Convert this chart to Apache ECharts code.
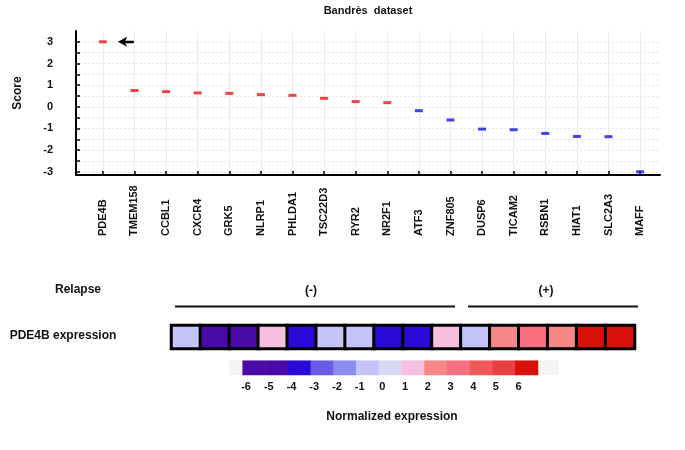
<!DOCTYPE html>
<html><head><meta charset="utf-8">
<script src="https://cdn.jsdelivr.net/npm/echarts@6/dist/echarts.min.js"></script>
<style>html,body{margin:0;padding:0;background:#fff}#c{width:685px;height:450px}</style>
</head><body><div id="c"></div>
<script>
const genes = ['PDE4B','TMEM158','CCBL1','CXCR4','GRK5','NLRP1','PHLDA1','TSC22D3','RYR2','NR2F1','ATF3','ZNF805','DUSP6','TICAM2','RSBN1','HIAT1','SLC2A3','MAFF'];
const scores = [3.0,0.75,0.70,0.64,0.62,0.56,0.53,0.39,0.24,0.19,-0.18,-0.61,-1.03,-1.06,-1.23,-1.37,-1.38,-3.0];
const yTickValues = [-3,-2.5,-2,-1.5,-1,-0.5,0,0.5,1,1.5,2,2.5,3];
const yLabelValues = [-3,-2,-1,0,1,2,3];
const geneIndex = genes.map((g,i)=>i);
const expression = [-1,-5,-5,1,-4,-1,-1,-4,-4,1,-1,2,3,2,6,6];
const scaleValues = [-6,-5,-4,-3,-2,-1,0,1,2,3,4,5,6];
const scaleColors = ['#4a0aa8','#4a0aa8','#2a0ad8','#6a5ae8','#8a8cf0','#c4c4f8','#d8d8f4','#f8c0e0','#f88888','#f87080','#f05858','#e84040','#d81008'];

const FF = "'Liberation Sans', Arial, sans-serif";
const chart = echarts.init(document.getElementById('c'), null, {renderer:'canvas'});
const txt = (x,y,t,size,align) => ({type:'text', x:x, y:y, style:{text:t, font:'bold '+size+'px '+FF, fill:'#111', align:align||'center', verticalAlign:'middle'}});
const ln = (x1,x2,y) => ({type:'line', shape:{x1:x1,y1:y,x2:x2,y2:y}, style:{stroke:'#111', lineWidth:2}});

chart.setOption({
  animation:false,
  backgroundColor:'#fff',
  title:{text:'Bandrès  dataset', left:368, top:5, textAlign:'center', padding:0,
    textStyle:{fontFamily:FF, fontWeight:'bold', fontSize:11, color:'#111'}},
  graphic:[
    {type:'rect', z:-10, shape:{x:229,y:360.5,width:330,height:14.5}, style:{fill:'#f4f4f4'}},
    txt(78,290,'Relapse',12),
    txt(311,291,'(-)',12),
    txt(546,291,'(+)',12),
    ln(175,455,306.5),
    ln(468,638,306.5),
    txt(63,336,'PDE4B expression',12),
    txt(392,417,'Normalized expression',12)
  ],
  visualMap:{type:'piecewise', show:false, seriesIndex:[1,2], dimension:2,
    pieces: scaleValues.map((v,i)=>({value:v, color:scaleColors[i]}))},
  grid:[
    {left:76, top:31, width:584, height:144, containLabel:false},
    {left:171.5, top:325.5, width:463, height:23, show:true, borderColor:'#000', borderWidth:3, backgroundColor:'#000'},
    {left:242.7, top:360.7, width:295.3, height:14.3}
  ],
  xAxis:[
    {type:'value', gridIndex:0, min:-0.85, max:17.63,
      axisLine:{show:true, onZero:false, lineStyle:{color:'#000', width:2}},
      axisTick:{show:true, inside:true, length:4, customValues:geneIndex, lineStyle:{color:'#000', width:1.5}},
      axisLabel:{show:true, customValues:geneIndex, rotate:90, align:'left', verticalAlign:'middle', margin:61,
        formatter:(v)=>genes[Math.round(v)]||'', fontFamily:FF, fontWeight:'bold', fontSize:11, color:'#111'},
      splitLine:{show:true, lineStyle:{color:'#ebebeb', width:1}}},
    {type:'category', gridIndex:1, data:expression.map((v,i)=>i), show:false},
    {type:'category', gridIndex:2, data:scaleValues.map(String),
      axisLine:{show:false}, axisTick:{show:false},
      axisLabel:{margin:6, padding:[0,16,0,0], fontFamily:FF, fontWeight:'bold', fontSize:11, color:'#111'}}
  ],
  yAxis:[
    {type:'value', gridIndex:0, min:-3.15, max:3.5,
      name:'Score', nameLocation:'middle', nameGap:52, nameRotate:90,
      nameTextStyle:{fontFamily:FF, fontWeight:'bold', fontSize:12, color:'#111', padding:[0,0,0,20]},
      axisLine:{show:true, onZero:false, lineStyle:{color:'#000', width:2}},
      axisTick:{show:true, inside:true, length:4, customValues:yTickValues, lineStyle:{color:'#000', width:1.5}},
      axisLabel:{show:true, customValues:yLabelValues, margin:23, fontFamily:FF, fontWeight:'bold', fontSize:11, color:'#111'},
      splitLine:{show:true, lineStyle:{color:'#e6e6e6', width:1, type:[2,2]}}},
    {type:'category', gridIndex:1, data:['PDE4B'], show:false},
    {type:'category', gridIndex:2, data:['scale'], show:false}
  ],
  series:[
    {type:'scatter', xAxisIndex:0, yAxisIndex:0, symbol:'rect', symbolSize:[8,3],
      data: scores.map((v,i)=>[i,v]),
      itemStyle:{color:(p)=>p.value[1]>=0?'#e6141c':'#1414e0'},
      markPoint:{symbol:'path://M0,5 L10,0 L8,4 L17,4 L17,6.5 L8,6.5 L10,10 Z', symbolSize:[16,10], symbolOffset:[23,0],
        itemStyle:{color:'#000'}, label:{show:false}, data:[{type:'max'}]}},
    {type:'heatmap', xAxisIndex:1, yAxisIndex:1,
      data: expression.map((v,i)=>[i,0,v]),
      itemStyle:{borderColor:'#000', borderWidth:3}},
    {type:'heatmap', xAxisIndex:2, yAxisIndex:2,
      data: scaleValues.map((v,i)=>[i,0,v])}
  ]
});
</script></body></html>
